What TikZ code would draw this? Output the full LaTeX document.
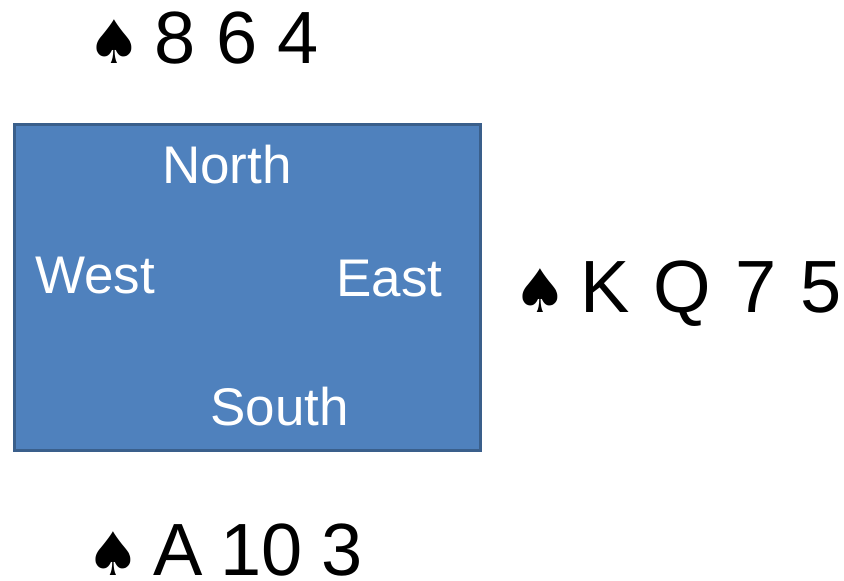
\documentclass[tikz,border=0pt]{standalone}
\usepackage{fontspec}
\setmainfont{Liberation Sans}
\newfontfamily\spadefont{DejaVu Sans}
\definecolor{tablefill}{HTML}{4F81BD}
\definecolor{tableedge}{HTML}{3A5F8B}
\newcommand{\spd}{{\spadefont\fontsize{60}{60}\selectfont ♠}\hspace{13.5pt}}
\begin{document}
\begin{tikzpicture}[x=1pt,y=-1pt,
  hand/.style={anchor=base west,inner sep=0pt,font=\fontsize{74}{80}\selectfont,text=black},
  seat/.style={anchor=base west,inner sep=0pt,font=\fontsize{53}{60}\selectfont,text=white},
  tablebox/.style={draw=tableedge,fill=tablefill,line width=3pt,inner sep=0pt,minimum width=466pt,minimum height=326pt}]
\useasboundingbox (0,0) rectangle (844,581);
\node[tablebox] (table) at (247,287) {};
\node[seat] (north) at (162,183) {North};
\node[seat] (west) at (35,293) {West};
\node[seat] (east) at (336,296) {East};
\node[seat] (south) at (210,425) {South};
\node[hand] (nhand) at (87,63) {\spd 8 6 4};
\node[hand] (ehand) at (513,312) {\spd\spaceskip=24pt K Q 7 5};
\node[hand] (shand) at (86,575) {\spd\spaceskip=18pt A 10 3};
\end{tikzpicture}
\end{document}
